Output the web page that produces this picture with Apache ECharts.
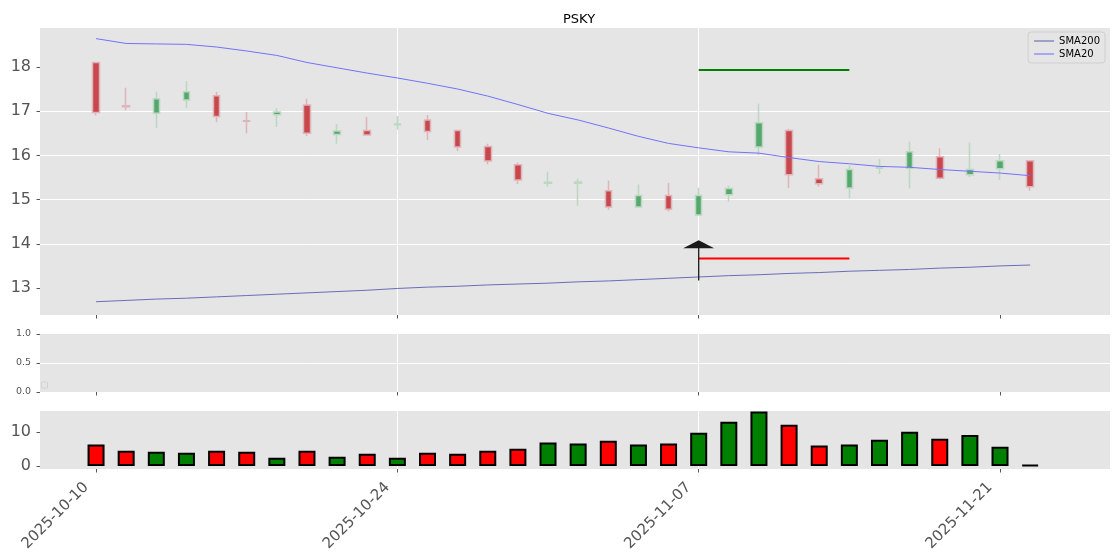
<!DOCTYPE html>
<html><head><meta charset="utf-8">
<script src="https://cdn.jsdelivr.net/npm/echarts@6/dist/echarts.min.js"></script>
<style>html,body{margin:0;padding:0;background:#fff}#c{width:1120px;height:560px}</style>
</head><body><div id="c"></div>
<script>
const ticker = 'PSKY';
const dates = ['2025-10-10','2025-10-13','2025-10-14','2025-10-15','2025-10-16','2025-10-17','2025-10-20','2025-10-21','2025-10-22','2025-10-23',
  '2025-10-24','2025-10-27','2025-10-28','2025-10-29','2025-10-30','2025-10-31','2025-11-03','2025-11-04','2025-11-05','2025-11-06',
  '2025-11-07','2025-11-10','2025-11-11','2025-11-12','2025-11-13','2025-11-14','2025-11-17','2025-11-18','2025-11-19','2025-11-20',
  '2025-11-21','2025-11-24'];
const opens  = [18.10,17.12,16.95,17.25,17.35,16.78,16.92,17.14,16.47,16.56,16.69,16.80,16.56,16.20,15.79,15.37,15.37,15.20,14.83,15.09,14.65,15.11,16.19,16.56,15.47,15.26,15.71,15.71,15.97,15.56,15.70,15.88];
const closes = [16.97,17.10,17.28,17.44,16.88,16.77,16.98,16.50,16.55,16.46,16.71,16.54,16.19,15.87,15.44,15.39,15.40,14.83,15.09,14.78,15.09,15.25,16.74,15.56,15.36,15.68,15.73,16.08,15.48,15.68,15.88,15.29];
const lows   = [16.90,17.02,16.62,17.07,16.75,16.50,16.64,16.44,16.26,16.45,16.58,16.35,16.10,15.80,15.35,15.29,14.86,14.77,14.82,14.73,14.64,14.95,16.00,15.26,15.29,15.03,15.58,15.25,15.46,15.51,15.44,15.20];
const highs  = [18.10,17.53,17.44,17.68,17.44,16.98,17.07,17.28,16.71,16.87,16.89,16.91,16.57,16.26,15.84,15.63,15.47,15.43,15.34,15.38,15.27,15.32,17.17,16.60,15.79,15.77,15.92,16.31,16.16,16.29,16.03,15.88];
const sma20  = [18.64,18.53,18.52,18.51,18.45,18.36,18.26,18.10,17.98,17.86,17.75,17.63,17.50,17.34,17.15,16.95,16.80,16.62,16.43,16.27,16.17,16.08,16.05,15.95,15.86,15.81,15.75,15.73,15.68,15.64,15.60,15.54];
const sma200 = [12.69,12.72,12.75,12.77,12.80,12.83,12.86,12.89,12.92,12.95,12.99,13.02,13.04,13.07,13.09,13.11,13.14,13.16,13.19,13.22,13.25,13.28,13.30,13.33,13.35,13.38,13.40,13.42,13.45,13.47,13.50,13.52];
const volumes = [6.3,4.5,4.2,3.9,4.5,4.2,2.4,4.5,2.7,3.6,2.4,3.9,3.6,4.5,5.1,6.9,6.6,7.4,6.3,6.6,9.8,13.0,16.0,12.1,6.0,6.3,7.7,10.1,8.0,9.1,5.7,0.3];
// tick positions
const xTickIdx = [0, 10, 20, 30];
const priceTicks = [13, 14, 15, 16, 17, 18];
const midTicks = [0, 0.5, 1];
const volTicks = [0, 10];
// trade markers
const entryIndex = 20, exitIndex = 25;
const takeProfit = 17.93;
const stopLoss = 13.67;
const arrowFrom = 13.17, arrowTo = 13.93, arrowHead = 13.99;

const FONT = 'DejaVu Sans';
const X_MIN = -1.86, X_MAX = 33.65;
const BG = '#E5E5E5';

function xAxisCfg(gi, showLabels) {
  return {
    type: 'value', gridIndex: gi, min: X_MIN, max: X_MAX, minInterval: 10, maxInterval: 10,
    axisLine: {show: false, onZero: false},
    axisTick: {show: true, customValues: xTickIdx, length: 3.5, lineStyle: {color: '#555', width: 1}},
    axisLabel: {
      show: showLabels, customValues: xTickIdx,
      rotate: 45, fontSize: 15, color: '#555', fontFamily: FONT, margin: 6, padding: [0, 14, 0, 0],
      formatter: v => dates[Math.round(v)] || ''
    },
    splitLine: {show: true, showMinLine: false, showMaxLine: false, lineStyle: {color: '#fff', width: 1}}
  };
}
function yAxisCfg(gi, min, max, iv, ticks, fs, fmt) {
  return {
    type: 'value', gridIndex: gi, min: min, max: max, minInterval: iv, maxInterval: iv,
    axisLine: {show: false, onZero: false},
    axisTick: {show: true, customValues: ticks, length: 3.5, lineStyle: {color: '#555', width: 1}},
    axisLabel: {customValues: ticks, fontSize: fs, color: '#555', fontFamily: FONT, margin: 9, formatter: fmt},
    splitLine: {show: true, showMinLine: false, showMaxLine: false, lineStyle: {color: '#fff', width: 1}}
  };
}

const candleData = dates.map((d, i) => [i, opens[i], closes[i], lows[i], highs[i]]);
const volData = volumes.map((v, i) => ({
  value: [i, v],
  itemStyle: {color: closes[i] >= opens[i] ? '#008000' : '#ff0000'}
}));

const chart = echarts.init(document.getElementById('c'), null, {renderer: 'canvas'});
chart.setOption({
  animation: false,
  backgroundColor: '#fff',
  textStyle: {fontFamily: FONT},
  title: {text: ticker, left: 558, top: 8, textStyle: {fontSize: 13, fontWeight: 'normal', color: '#000', fontFamily: FONT}},
  legend: {
    right: 15, top: 32, orient: 'vertical', itemWidth: 20, itemHeight: 2, itemGap: 3,
    padding: [4, 5, 4, 6], backgroundColor: 'rgba(229,229,229,0.8)', borderColor: '#cfcfcf', borderWidth: 1, borderRadius: 3,
    textStyle: {fontSize: 10, color: '#000', fontFamily: FONT},
    data: [
      {name: 'SMA200', icon: 'rect', itemStyle: {color: '#9f9fc8'}},
      {name: 'SMA20', icon: 'rect', itemStyle: {color: '#a8a8f2'}}
    ]
  },
  grid: [
    {left: 40, right: 10, top: 28, height: 287, show: true, backgroundColor: BG, borderWidth: 0},
    {left: 40, right: 10, top: 334, height: 58, show: true, backgroundColor: BG, borderWidth: 0},
    {left: 40, right: 10, top: 411, height: 58, show: true, backgroundColor: BG, borderWidth: 0}
  ],
  xAxis: [xAxisCfg(0, false), xAxisCfg(1, false), xAxisCfg(2, true)],
  yAxis: [
    yAxisCfg(0, 12.39, 18.88, 1, priceTicks, 16, v => String(Math.round(v))),
    Object.assign(yAxisCfg(1, 0, 1, 0.5, midTicks, 9.5, v => Number(v).toFixed(1)), {interval: 0.5}),
    yAxisCfg(2, -0.88, 16.18, 10, volTicks, 16, v => String(Math.round(v)))
  ],
  graphic: [
    {type: 'rect', shape: {x: 41.5, y: 382, width: 6, height: 6, r: 1},
     style: {fill: 'rgba(229,229,229,0.8)', stroke: '#d2d2d2', lineWidth: 1}, z: 100}
  ],
  series: [
    {
      type: 'candlestick', name: 'OHLC', xAxisIndex: 0, yAxisIndex: 0,
      dimensions: ['idx', 'open', 'close', 'lowest', 'highest'],
      encode: {x: 0, y: [1, 2, 3, 4]},
      data: candleData, barWidth: 7,
      itemStyle: {color: '#53a86b', color0: '#c8474c', borderColor: '#bcd8c2', borderColor0: '#e0b5b9', borderWidth: 1.5}
    },
    {type: 'line', name: 'SMA200', xAxisIndex: 0, yAxisIndex: 0, data: sma200.map((v, i) => [i, v]),
     symbol: 'none', lineStyle: {color: '#6c6cb8', width: 1}, itemStyle: {color: '#6c6cb8'}, z: 3},
    {type: 'line', name: 'SMA20', xAxisIndex: 0, yAxisIndex: 0, data: sma20.map((v, i) => [i, v]),
     symbol: 'none', lineStyle: {color: '#7272fa', width: 1}, itemStyle: {color: '#7272fa'}, z: 3},
    {type: 'line', name: 'TP', xAxisIndex: 0, yAxisIndex: 0, data: [[entryIndex, takeProfit], [exitIndex, takeProfit]],
     symbol: 'none', lineStyle: {color: '#008000', width: 2}, z: 4},
    {type: 'line', name: 'SL', xAxisIndex: 0, yAxisIndex: 0, data: [[entryIndex, stopLoss], [exitIndex, stopLoss]],
     symbol: 'none', lineStyle: {color: '#ff0000', width: 2}, z: 4},
    {type: 'line', name: 'Arrow', xAxisIndex: 0, yAxisIndex: 0, data: [[entryIndex, arrowFrom], [entryIndex, arrowTo]],
     symbol: 'none', lineStyle: {color: '#1a1a1a', width: 1.3}, z: 5},
    {type: 'scatter', name: 'ArrowHead', xAxisIndex: 0, yAxisIndex: 0, data: [[entryIndex, arrowHead]],
     symbol: 'triangle', symbolSize: [31, 8], itemStyle: {color: '#1a1a1a', opacity: 1}, z: 6},
    {type: 'line', name: 'empty', xAxisIndex: 1, yAxisIndex: 1, data: []},
    {type: 'bar', name: 'Volume', xAxisIndex: 2, yAxisIndex: 2, data: volData, barWidth: 17,
     itemStyle: {borderColor: '#000', borderWidth: 2}}
  ]
});
</script></body></html>
